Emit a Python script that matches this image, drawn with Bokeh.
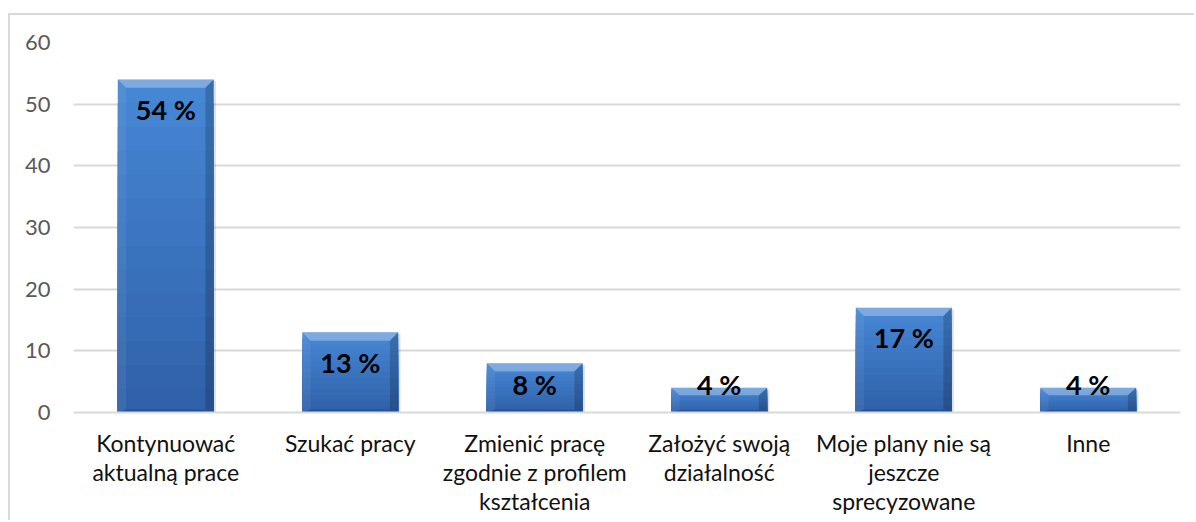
from bokeh.plotting import figure
from bokeh.models import FixedTicker, Range1d, ColumnDataSource
from bokeh.embed import file_html
from bokeh.resources import INLINE
from bokeh.core.properties import value

# ---- data ----
categories = [
    "Kontynuować\naktualną prace",
    "Szukać pracy",
    "Zmienić pracę\nzgodnie z profilem\nkształcenia",
    "Założyć swoją\ndziałalność",
    "Moje plany nie są\njeszcze\nsprecyzowane",
    "Inne",
]
values = [54, 13, 8, 4, 17, 4]
labels = ["54 %", "13 %", "8 %", "4 %", "17 %", "4 %"]
y_ticks = [0, 10, 20, 30, 40, 50, 60]

FONT = "Lato"
centers = [i + 0.5 for i in range(len(categories))]
half = 0.26

p = figure(
    width=1186, height=507,
    x_range=Range1d(0, len(categories)), y_range=Range1d(0, 60),
    output_backend="svg", toolbar_location=None,
    min_border_left=63, min_border_right=16, min_border_top=27, min_border_bottom=110,
)
p.styles = {"margin-top": "13px", "margin-left": "8px",
            "border-top": "2px solid #d9d9d9", "border-left": "2px solid #d9d9d9"}
p.outline_line_color = None
p.background_fill_color = "white"
p.border_fill_color = "white"

# grid
p.xgrid.visible = False
p.ygrid.ticker = FixedTicker(ticks=y_ticks)
p.ygrid.grid_line_color = "#d9d9d9"
p.ygrid.grid_line_width = 2

# y axis
p.yaxis.ticker = FixedTicker(ticks=y_ticks)
p.yaxis.axis_line_color = None
p.yaxis.major_tick_line_color = None
p.yaxis.minor_tick_line_color = None
p.yaxis.major_label_text_font = FONT
p.yaxis.major_label_text_font_size = "22px"
p.yaxis.major_label_text_color = "#595959"
p.yaxis.major_label_standoff = 17

# x axis
p.xaxis.ticker = FixedTicker(ticks=centers)
p.xaxis.major_label_overrides = {c: lab for c, lab in zip(centers, categories)}
p.xaxis.axis_line_color = "#d9d9d9"
p.xaxis.axis_line_width = 2
p.xaxis.major_tick_line_color = None
p.xaxis.minor_tick_line_color = None
p.xaxis.major_label_text_font = FONT
p.xaxis.major_label_text_font_size = "23px"
p.xaxis.major_label_text_color = "#111111"
p.xaxis.major_label_text_line_height = 1.05
p.xaxis.major_label_standoff = 10

# shadow
p.vbar(x=[c + 0.012 for c in centers], top=[v - 0.25 for v in values], bottom=0,
       width=2 * half, fill_color="#000000", fill_alpha=0.12, line_color=None)

# body with vertical gradient (lighter at top, darker at bottom)
top_rgb = (0x46, 0x87, 0xD4)
bot_rgb = (0x30, 0x61, 0xAA)
N = 14
for k in range(N):
    t = k / (N - 1)
    col = "#%02x%02x%02x" % tuple(int(round(a + (b - a) * t)) for a, b in zip(top_rgb, bot_rgb))
    frac = (N - k) / N
    p.vbar(x=centers, top=[v * frac for v in values], bottom=0, width=2 * half,
           fill_color=col, line_color=None)

# bevel edges
bx = 0.045
top_x, top_y, left_x, left_y, right_x, right_y, bot_x, bot_y = ([] for _ in range(8))
for c, v in zip(centers, values):
    x0, x1 = c - half, c + half
    by = min(1.35, v * 0.3)
    bb = min(0.5, v * 0.1)
    top_x.append([x0, x1, x1 - bx, x0 + bx]); top_y.append([v, v, v - by, v - by])
    left_x.append([x0, x0 + bx, x0 + bx, x0]); left_y.append([v, v - by, bb, 0])
    right_x.append([x1, x1 - bx, x1 - bx, x1]); right_y.append([v, v - by, bb, 0])
    bot_x.append([x0, x0 + bx, x1 - bx, x1]); bot_y.append([0, bb, bb, 0])

p.patches(top_x, top_y, fill_color="#ffffff", fill_alpha=0.3, line_color=None)
p.patches(left_x, left_y, fill_color="#ffffff", fill_alpha=0.06, line_color=None)
p.patches(right_x, right_y, fill_color="#000000", fill_alpha=0.18, line_color=None)
p.patches(bot_x, bot_y, fill_color="#000000", fill_alpha=0.15, line_color=None)

# data labels (inside end, clamped for short bars)
label_y = [max(v - 4.86, 4.54) for v in values]
src = ColumnDataSource(dict(x=centers, y=label_y, t=labels))
p.text(x="x", y="y", text="t", source=src, text_font=value(FONT),
       text_font_style="bold", text_font_size="27px", text_align="center",
       text_baseline="middle", text_color="#000000")

open("out.html", "w").write(file_html(p, INLINE))
